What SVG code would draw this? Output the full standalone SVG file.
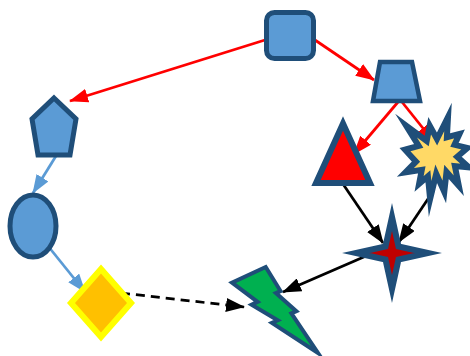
<svg xmlns="http://www.w3.org/2000/svg" width="470" height="356" viewBox="0 0 470 356">
<defs>
<style>
.shape{stroke:#1F4E79;stroke-linejoin:miter;stroke-miterlimit:10}
.blue{fill:#5B9BD5}
.red{stroke:#FF0000;stroke-width:2.75;fill:none}
.lblue{stroke:#5B9BD5;stroke-width:2.75;fill:none}
.blk{stroke:#000000;stroke-width:2.75;fill:none}
</style>
<marker id="ar" markerUnits="userSpaceOnUse" viewBox="0 0 19 14" refX="18" refY="7" markerWidth="19" markerHeight="14" orient="auto"><path d="M0,0 L19,7 L0,14 Z" fill="#FF0000"/></marker>
<marker id="ab" markerUnits="userSpaceOnUse" viewBox="0 0 19 14" refX="18" refY="7" markerWidth="19" markerHeight="14" orient="auto"><path d="M0,0 L19,7 L0,14 Z" fill="#5B9BD5"/></marker>
<marker id="ak" markerUnits="userSpaceOnUse" viewBox="0 0 19 14" refX="18" refY="7" markerWidth="19" markerHeight="14" orient="auto"><path d="M0,0 L19,7 L0,14 Z" fill="#000000"/></marker>
</defs>
<g id="connectors">
<line class="red" x1="312" y1="38" x2="374" y2="80" marker-end="url(#ar)"/>
<line class="red" x1="265" y1="40" x2="70" y2="101" marker-end="url(#ar)"/>
<line class="red" x1="398" y1="102" x2="354" y2="154" marker-end="url(#ar)"/>
<line class="red" x1="402" y1="102" x2="434" y2="142" marker-end="url(#ar)"/>
<line class="lblue" x1="56" y1="156" x2="33" y2="193" marker-end="url(#ab)"/>
<line class="lblue" x1="48" y1="246" x2="85" y2="292" marker-end="url(#ab)"/>
<line class="blk" x1="343" y1="184" x2="383" y2="243" marker-end="url(#ak)"/>
<line class="blk" x1="434" y1="190" x2="399" y2="242" marker-end="url(#ak)"/>
<line class="blk" x1="366" y1="256" x2="283" y2="292" marker-end="url(#ak)"/>
<line class="blk" x1="121" y1="293" x2="244" y2="307" stroke-width="3" stroke-dasharray="9,6" marker-end="url(#ak)"/>
</g>
<g id="roundsquare"><rect class="shape blue" x="266.5" y="12.5" width="47" height="46" rx="8" stroke-width="5"/></g>
<g id="trapezoid"><path class="shape blue" d="M380,62 L412,62 L420,101 L373,101 Z" stroke-width="4.5"/></g>
<g id="pentagon"><path class="shape blue" d="M54,98 L76,119 L70,155 L38,155 L32,119 Z" stroke-width="5"/></g>
<g id="ellipse"><ellipse class="shape blue" cx="33" cy="226" rx="23" ry="31" stroke-width="5"/></g>
<g id="diamond"><path d="M101,269 L131,303 L101,337 L71,303 Z" fill="#FFC000" stroke="#FFFF00" stroke-width="6" stroke-linejoin="miter"/></g>
<g id="triangle"><path class="shape" d="M343,123.5 L370,183 L316,183 Z" fill="#FF0000" stroke-width="6"/></g>
<g id="explosion"><path class="shape" d="M437,139 L448,117 L446.9,137.2 L459.5,133.9 L454.5,144.8 L467.5,147.9 L457.2,156.8 L469,167.5 L454.9,166.1 L458.8,185.7 L446.5,171.9 L444.3,191.9 L436.2,173.7 L430.1,199 L427.9,176.3 L419.1,183.9 L421.8,169.9 L405.4,172.4 L416,161.7 L405,149.7 L418.7,145.9 L406.1,125.7 L426.7,141 L429.7,125.7 Z" fill="#FFD966" stroke-width="6"/></g>
<g id="star"><path class="shape" d="M392,217 L398.5,246.5 L428,253 L398.5,259.5 L392,289 L385.5,259.5 L356,253 L385.5,246.5 Z" fill="#C00000" stroke-width="6"/></g>
<g id="lightning"><path class="shape" d="M265.7,267 L280.5,291 L275.9,293.1 L296.3,311.2 L291.4,313.3 L318,353 L271.9,322.9 L277.7,320.3 L251.6,304.7 L257.6,301.9 L232,282.7 Z" fill="#00B050" stroke-width="4"/></g>
</svg>
